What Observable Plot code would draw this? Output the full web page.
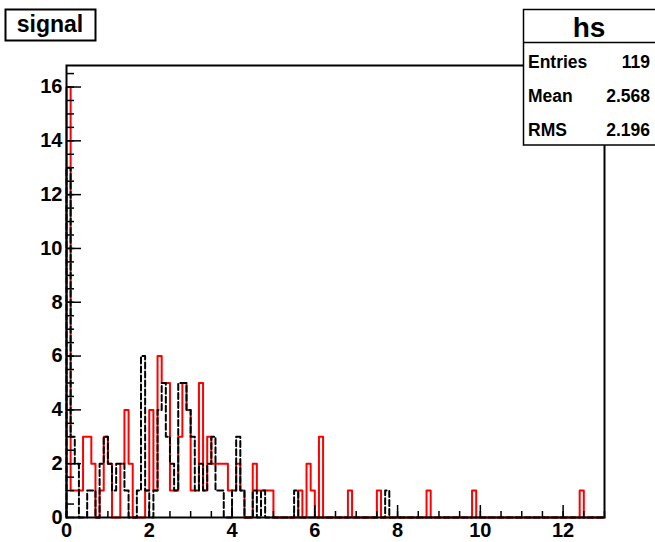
<!DOCTYPE html>
<html><head><meta charset="utf-8">
<script src="https://cdn.jsdelivr.net/npm/d3@7"></script>
<script src="https://cdn.jsdelivr.net/npm/@observablehq/plot@0.6"></script>
<style>
body{margin:0;background:#fff;}
#chart{position:relative;width:655px;height:542px;}
svg{font-family:"Liberation Sans",Arial,Helvetica,sans-serif;}
</style></head><body><div id="chart"></div>
<script>
// ---- data ----
const xMin = 0, xMax = 13, binWidth = 0.1;
// red histogram "hs" (130 bins of width 0.1)
const redCounts = [
16,1,1,1,3,3,2,0,1,3, 2,0,0,2,4,2,0,0,0,1,
4,1,6,5,5,1,1,3,5,4, 1,1,5,1,3,2,2,2,2,1,
1,2,1,0,0,2,1,1,1,1, 0,0,0,0,0,0,1,0,2,1,
0,3,0,0,0,0,0,0,1,0, 0,0,0,0,0,1,0,0,0,0,
0,0,0,0,0,0,0,1,0,0, 0,0,0,0,0,0,0,0,1,0,
0,0,0,0,0,0,0,0,0,0, 0,0,0,0,0,0,0,0,0,0,
0,0,0,0,1,0,0,0,0,0];
// black dashed histogram
const blackCounts = [
13,3,2,0,0,1,1,0,2,3, 2,1,2,2,1,0,0,1,6,1,
0,1,4,5,3,2,1,5,5,4, 3,1,2,1,2,3,1,1,0,0,
1,3,1,0,0,1,0,1,0,0, 0,0,0,0,0,1,0,0,0,0,
0,0,0,0,0,0,0,0,0,0, 0,0,0,0,0,0,0,1,0,0,
0,0,0,0,0,0,0,0,0,0, 0,0,0,0,0,0,0,0,0,0,
0,0,0,0,0,0,0,0,0,0, 0,0,0,0,0,0,0,0,0,0,
0,0,0,0,0,0,0,0,0,0];
const xTickLabels = [0, 2, 4, 6, 8, 10, 12];
const yTickLabels = [0, 2, 4, 6, 8, 10, 12, 14, 16];
const xMinorTicks = d3.range(0, 13.001, 0.5);
const yMinorTicks = d3.range(0, 16.801, 0.5);
const titleText = "signal";
const statsName = "hs";
const statsLabels = ["Entries", "Mean", "RMS"];
const statsValues = ["119", "2.568", "2.196"];

// ---- build ----
function stepPoints(counts) {
  const pts = [{x: xMin, y: 0}];
  counts.forEach((c, i) => pts.push({x: xMin + i * binWidth, y: c}));
  pts.push({x: xMax, y: counts[counts.length - 1]});
  pts.push({x: xMax, y: 0});
  return pts;
}

const W = 655, H = 542;
const mL = 66, mR = 51, mT = 65, mB = 25;
const pw = W - mL - mR, ph = H - mT - mB;

const chart = Plot.plot({
  width: W, height: H,
  marginLeft: mL, marginRight: mR, marginTop: mT, marginBottom: mB,
  style: {background: "white", fontFamily: "'Liberation Sans', Arial, sans-serif", overflow: "visible"},
  x: {domain: [xMin, xMax]},
  y: {domain: [0, 16.8]},
  marks: [
    Plot.line(stepPoints(redCounts), {x: "x", y: "y", curve: "step-after", stroke: "#ff0000", strokeWidth: 2}),
    Plot.line(stepPoints(blackCounts), {x: "x", y: "y", curve: "step-after", stroke: "black", strokeWidth: 2, strokeDasharray: "6,3"}),
    // inward ticks
    Plot.tickX(xTickLabels, {x: d => d, stroke: "black", strokeWidth: 1.5, insetTop: ph - 12}),
    Plot.tickX(xMinorTicks, {x: d => d, stroke: "black", strokeWidth: 1.5, insetTop: ph - 6}),
    Plot.tickY(yTickLabels, {y: d => d, stroke: "black", strokeWidth: 1.5, insetRight: pw - 15}),
    Plot.tickY(yMinorTicks, {y: d => d, stroke: "black", strokeWidth: 1.5, insetRight: pw - 8}),
    Plot.axisX({ticks: xTickLabels, tickSize: 0, tickPadding: 5, fontSize: 20, fontWeight: "bold", label: null, fill: "black"}),
    Plot.axisY({ticks: yTickLabels, tickSize: 0, tickPadding: 4, fontSize: 20, fontWeight: "bold", label: null, fill: "black"}),
    Plot.frame({stroke: "black", strokeWidth: 2})
  ]
});
document.getElementById("chart").appendChild(chart);

// ---- title box & stats box ----
const svg = d3.select(chart);
const tg = svg.append("g").attr("text-anchor", "start");
tg.append("rect").attr("x", 5.5).attr("y", 9.5).attr("width", 90).attr("height", 31)
  .attr("fill", "white").attr("stroke", "black").attr("stroke-width", 2);
tg.append("text").attr("x", 50).attr("y", 32).attr("text-anchor", "middle")
  .attr("font-size", 23).attr("font-weight", "bold").attr("fill", "black").text(titleText);

const sg = svg.append("g").attr("text-anchor", "start");
sg.append("rect").attr("x", 523.5).attr("y", 9.5).attr("width", 140).attr("height", 135.5)
  .attr("fill", "white").attr("stroke", "black").attr("stroke-width", 1.5);
sg.append("line").attr("x1", 523.5).attr("x2", 655).attr("y1", 42.5).attr("y2", 42.5)
  .attr("stroke", "black").attr("stroke-width", 1.5);
sg.append("text").attr("x", 589).attr("y", 37).attr("text-anchor", "middle")
  .attr("font-size", 28).attr("font-weight", "bold").attr("fill", "black").text(statsName);
statsLabels.forEach((lab, i) => {
  const y = 68 + i * 34;
  sg.append("text").attr("x", 528).attr("y", y).attr("text-anchor", "start").attr("font-size", 17.5)
    .attr("font-weight", "bold").attr("fill", "black").text(lab);
  sg.append("text").attr("x", 650).attr("y", y).attr("text-anchor", "end").attr("font-size", 17.5)
    .attr("font-weight", "bold").attr("fill", "black").text(statsValues[i]);
});
</script></body></html>
